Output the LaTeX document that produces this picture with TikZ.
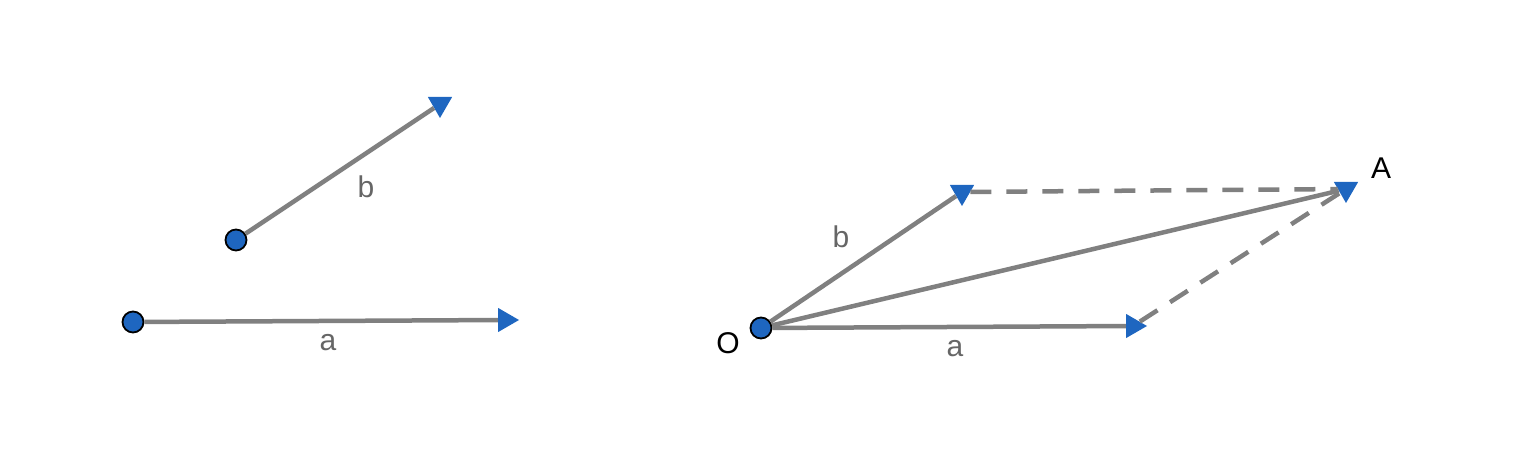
\documentclass[tikz,border=0pt]{standalone}
\usepackage{fontspec}
\setmainfont{Liberation Sans}
\usetikzlibrary{shapes.geometric}
\definecolor{ptblue}{HTML}{1E66C0}
\definecolor{vecgray}{HTML}{808080}
\definecolor{lblgray}{HTML}{666666}

\begin{document}
\begin{tikzpicture}[x=1pt,y=-1pt,
    pt/.style={circle, draw=black, line width=1.8pt, fill=ptblue, minimum size=21pt, inner sep=0pt},
    tip/.style={regular polygon, regular polygon sides=3, fill=ptblue, minimum size=28pt, inner sep=0pt},
    tipdown/.style={tip, shape border rotate=180},
    tipright/.style={tip, shape border rotate=-90},
    vec/.style={draw=vecgray, line width=4.5pt},
    aux/.style={vec, dash pattern=on 21pt off 15pt},
    lbl/.style={text=lblgray, font=\fontsize{30}{33}\selectfont},
    ptlbl/.style={text=black, font=\fontsize{30}{33}\selectfont}]
    \useasboundingbox (0,0) rectangle (1516,462);
    % left: the two vectors
    \node [pt] (pa) at (133,322) {};
    \node [tipright] (ta) at (505,320) {};
    \node [pt] (pb) at (236,240) {};
    \node [tipdown] (tb) at (440,104) {};
    \draw [vec] (pa) -- (ta);
    \draw [vec] (pb) -- (tb);
    \node [lbl] at (366,187) {b};
    \node [lbl] at (328,343) {a};
    % right: sum of a and b
    \node [pt] (O) at (761,328) {};
    \node [tipright] (ra) at (1133,326) {};
    \node [tipdown] (rb) at (962,192) {};
    \node [tipdown] (A) at (1346,189) {};
    \draw [vec] (O) -- (ra);
    \draw [vec] (O) -- (rb);
    \draw [vec] (O) -- (A);
    \draw [aux] (rb) -- (A);
    \draw [aux] (ra) -- (A);
    \node [lbl] at (841,237) {b};
    \node [lbl] at (955,349) {a};
    \node [ptlbl] at (728,343) {O};
    \node [ptlbl] at (1381,168) {A};
\end{tikzpicture}
\end{document}
